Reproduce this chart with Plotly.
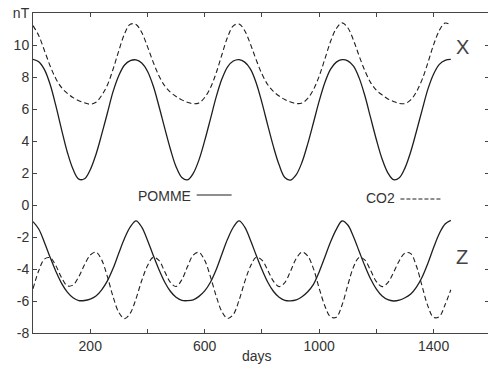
import plotly.graph_objects as go

days = list(range(0, 1461, 20))

pomme_x = [9.10, 8.95, 8.46, 7.53, 6.19, 4.70, 3.30, 2.23, 1.62, 1.64, 2.20, 3.16, 4.41, 5.75, 7.10, 8.10, 8.75, 9.02,
           9.07, 8.87, 8.36, 7.45, 6.19, 4.82, 3.50, 2.39, 1.72, 1.57, 1.98, 2.82, 4.02, 5.37, 6.74, 7.87, 8.64, 9.00,
           9.09, 8.93, 8.49, 7.63, 6.40, 5.01, 3.66, 2.51, 1.72, 1.56, 1.90, 2.67, 3.82, 5.14, 6.49, 7.66, 8.49, 8.93,
           9.08, 9.01, 8.68, 7.93, 6.81, 5.44, 4.08, 2.87, 2.01, 1.58, 1.70, 2.32, 3.33, 4.61, 5.95, 7.24, 8.19, 8.79,
           9.04, 9.10]

co2_x = [11.21, 10.59, 9.65, 8.69, 7.89, 7.33, 6.98, 6.71, 6.52, 6.39, 6.30, 6.42, 6.85, 7.50, 8.50, 9.65, 10.70, 11.30,
         11.28, 10.78, 9.90, 8.93, 8.08, 7.45, 7.05, 6.78, 6.57, 6.42, 6.33, 6.38, 6.72, 7.32, 8.25, 9.39, 10.49, 11.20,
         11.31, 10.89, 10.05, 9.07, 8.19, 7.53, 7.10, 6.81, 6.59, 6.44, 6.34, 6.37, 6.66, 7.21, 8.05, 9.13, 10.23, 11.03,
         11.38, 11.08, 10.30, 9.30, 8.38, 7.65, 7.17, 6.88, 6.63, 6.47, 6.35, 6.34, 6.57, 7.08, 7.85, 8.90, 10.02, 10.91,
         11.37, 11.25]

pomme_z = [-1.04, -1.50, -2.34, -3.28, -4.15, -4.90, -5.45, -5.80, -5.97, -5.97, -5.88, -5.69, -5.30, -4.74, -3.96, -3.00, -2.08, -1.37,
           -0.99, -1.38, -2.20, -3.14, -4.03, -4.81, -5.39, -5.77, -5.96, -5.98, -5.93, -5.71, -5.37, -4.83, -4.05, -3.08, -2.13, -1.39,
           -0.99, -1.38, -2.20, -3.14, -4.03, -4.81, -5.39, -5.77, -5.96, -5.99, -5.93, -5.73, -5.42, -4.96, -4.18, -3.25, -2.30, -1.52,
           -1.00, -1.25, -1.98, -2.91, -3.82, -4.63, -5.26, -5.69, -5.92, -6.00, -5.95, -5.80, -5.56, -5.13, -4.50, -3.64, -2.66, -1.78,
           -1.19, -0.96]

co2_z = [-5.24, -4.11, -3.38, -3.30, -3.80, -4.55, -5.05, -5.00, -4.48, -3.74, -3.13, -2.95, -3.43, -4.48, -5.74, -6.72, -7.10, -6.76,
         -5.86, -4.72, -3.80, -3.27, -3.46, -4.15, -4.83, -5.09, -4.67, -3.85, -3.13, -2.96, -3.46, -4.48, -5.68, -6.66, -7.09, -6.84,
         -5.96, -4.79, -3.83, -3.27, -3.44, -4.06, -4.76, -5.10, -4.85, -4.13, -3.34, -2.95, -3.19, -3.98, -5.20, -6.31, -7.00, -7.01,
         -6.25, -5.01, -3.88, -3.27, -3.45, -4.10, -4.79, -5.10, -4.85, -4.21, -3.48, -3.00, -3.04, -3.83, -5.09, -6.32, -7.03, -6.97,
         -6.23, -5.30]

x_tickvals = [200, 400, 600, 800, 1000, 1200, 1400]
x_ticktext = ["200", "", "600", "", "1000", "", "1400"]
y_tickvals = [-8, -6, -4, -2, 0, 2, 4, 6, 8, 10, 12]
y_ticktext = ["-8", "-6", "-4", "-2", "0", "2", "4", "6", "8", "10", "nT"]

FONT = "Liberation Sans, Arial, sans-serif"
LINE = "#1e1e1e"
AX = "#444444"
TXT = "#333333"
DASH = "5px,3px"

fig = go.Figure()
fig.add_trace(go.Scatter(x=days, y=pomme_x, mode="lines", line=dict(color=LINE, width=1.3, shape="spline"), name="POMME X"))
fig.add_trace(go.Scatter(x=days, y=co2_x, mode="lines", line=dict(color=LINE, width=1.1, dash=DASH, shape="spline"), name="CO2 X"))
fig.add_trace(go.Scatter(x=days, y=pomme_z, mode="lines", line=dict(color=LINE, width=1.3, shape="spline"), name="POMME Z"))
fig.add_trace(go.Scatter(x=days, y=co2_z, mode="lines", line=dict(color=LINE, width=1.1, dash=DASH, shape="spline"), name="CO2 Z"))
# invisible trace to host the right-hand tick axis
fig.add_trace(go.Scatter(x=days, y=pomme_z, mode="lines", line=dict(color="rgba(0,0,0,0)", width=0),
                         yaxis="y2", hoverinfo="skip", showlegend=False))

fig.update_layout(
    width=488, height=370,
    margin=dict(l=33, r=0, t=13, b=37),
    paper_bgcolor="white", plot_bgcolor="white",
    showlegend=False,
    font=dict(family=FONT, size=14, color=TXT),
    xaxis=dict(range=[0, 1590], tickvals=x_tickvals, ticktext=x_ticktext,
               ticks="inside", ticklen=4, tickcolor=AX, tickwidth=1,
               showline=True, linecolor=AX, linewidth=1, mirror="ticks",
               showgrid=False, zeroline=False, tickfont=dict(size=14, color=TXT)),
    yaxis=dict(range=[-8, 12], tickvals=y_tickvals, ticktext=y_ticktext,
               ticks="inside", ticklen=4, tickcolor=AX, tickwidth=1,
               showline=True, linecolor=AX, linewidth=1, mirror=False,
               showgrid=False, zeroline=False, tickfont=dict(size=14, color=TXT)),
    yaxis2=dict(range=[-8, 12], overlaying="y", side="right",
                tickvals=[-8, -6, -4, -2, 0, 2, 4, 6, 8, 10],
                ticks="inside", ticklen=3, tickcolor=AX, tickwidth=1,
                showticklabels=False, showline=False, showgrid=False, zeroline=False),
)

fig.add_annotation(text="days", xref="paper", yref="paper", x=0.492, y=-0.072,
                   showarrow=False, font=dict(size=14, color=TXT), xanchor="center", yanchor="middle")
fig.add_annotation(text="X", x=1501, y=9.875, showarrow=False,
                   font=dict(size=20, color="#444"), xanchor="center", yanchor="middle")
fig.add_annotation(text="Z", x=1500, y=-3.22, showarrow=False,
                   font=dict(size=20, color="#444"), xanchor="center", yanchor="middle")
fig.add_annotation(text="POMME", x=558, y=0.56, showarrow=False,
                   font=dict(size=14, color=TXT), xanchor="right", yanchor="middle")
fig.add_annotation(text="CO2", x=1271, y=0.44, showarrow=False,
                   font=dict(size=14, color=TXT), xanchor="right", yanchor="middle")
fig.add_shape(type="line", x0=572, x1=694, y0=0.625, y1=0.625, line=dict(color=LINE, width=1.2))
fig.add_shape(type="line", x0=1284, x1=1428, y0=0.375, y1=0.375, line=dict(color=LINE, width=1, dash="4px,2px"))

fig.write_html("out.html", config={"displayModeBar": False},
               post_script="document.body.style.margin='0';document.body.style.overflow='hidden';")
